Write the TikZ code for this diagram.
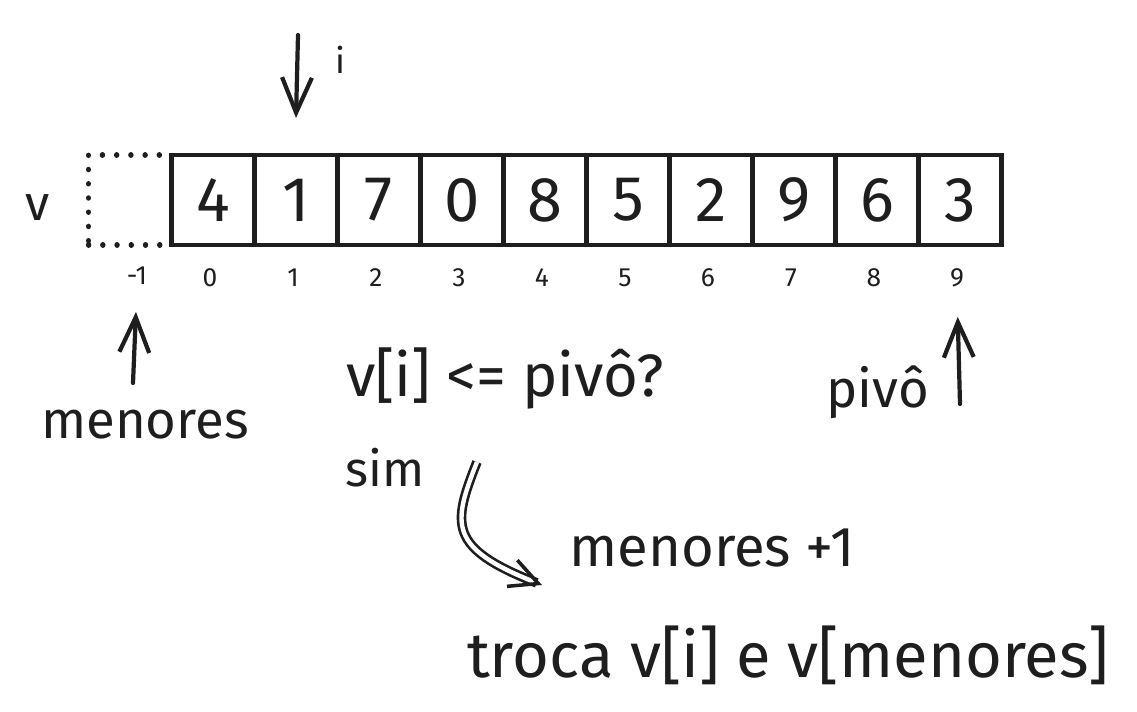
\documentclass[tikz,border=0pt]{standalone}
\usepackage{fontspec}
\setmainfont{Fira Sans}
\usepackage{tikz}
\usetikzlibrary{arrows.meta,positioning}
\definecolor{tinta}{RGB}{30,30,30}

\tikzset{
  celula/.style={draw=tinta, line width=2.6pt, minimum width=1.66cm, minimum height=1.8cm,
    inner sep=0pt, font=\fontsize{36}{40}\selectfont, text=tinta},
  vazia/.style={draw=tinta, line width=3pt, dash pattern=on 0.1pt off 8pt, line cap=round,
    minimum width=1.66cm, minimum height=1.8cm},
  indice/.style={font=\fontsize{15}{18}\selectfont, text=tinta, inner sep=1pt},
  rotulo/.style={font=\fontsize{28}{32}\selectfont, text=tinta, inner sep=1pt},
  seta/.style={draw=tinta, line width=2.4pt, line cap=round,
    -{Straight Barb[length=20pt, width=17pt, line width=2.4pt]}},
}

\begin{document}
\begin{tikzpicture}[x=0.02cm, y=-0.02cm]
        \useasboundingbox (0,0) rectangle (1137,712);
        % vetor
        \node[rotulo] (v) at (38,208) {v};
        \node[vazia] (vazio) at (130,200) {};
        \node[indice] (im1) at (137,276) {-1};
        \foreach \val [count=\k from 0] in {4,1,7,0,8,5,2,9,6,3} {
          \node[celula] (c\k) at ({213+83*\k},200) {\val};
          \node[indice] (i\k) at ({210+83*\k},278) {\k};
        }
        % ponteiros
        \coordinate (topoi) at (298,35);
        \draw[seta] (topoi) -- (c1.north |- 0,118);
        \node[rotulo, font=\fontsize{20}{24}\selectfont] (li) at (340,60) {i};
        \node[rotulo, font=\fontsize{30}{34}\selectfont] (menores) at (145,425) {menores};
        \draw[seta, shorten >=0.5cm] (133,383) -- (im1.south);
        \node[rotulo, font=\fontsize{30}{34}\selectfont] (pivo) at (878,392) {pivô};
        \draw[seta, shorten >=0.55cm] (960,404) -- (i9.south);
        % teste
        \node[rotulo, font=\fontsize{34}{38}\selectfont] (teste) at (505,378) {v[i] <= pivô?};
        \node[rotulo] (sim) at (385,468) {sim};
        \node[rotulo, font=\fontsize{32}{36}\selectfont] (incr) at (712,548) {menores +1};
        \coordinate (ini) at (477,462);
        \coordinate (fim) at (542,585);
        \draw[seta, line width=1.5pt, line cap=butt, double, double distance=2.5pt,
          -{Straight Barb[length=16pt, width=16pt, line width=2pt]}]
          (ini) .. controls (452,525) and (448,548) .. (fim);
        \node[rotulo, font=\fontsize{36}{40}\selectfont] (troca) at (788,655) {troca v[i] e v[menores]};
      \end{tikzpicture}
\end{document}
